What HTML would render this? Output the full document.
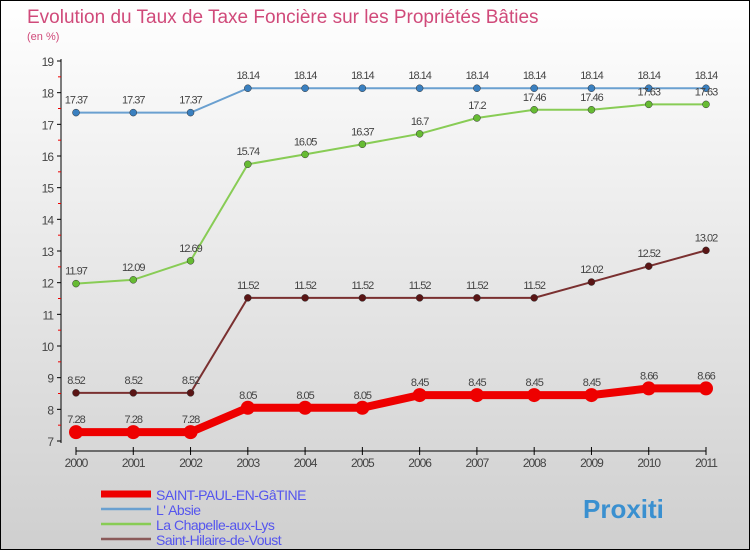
<!DOCTYPE html>
<html><head><meta charset="utf-8"><style>
body{margin:0}
#c{position:relative;width:748px;height:548px;border:1px solid #000;background:linear-gradient(#fff,#cfcfcf);font-family:"Liberation Sans",sans-serif;overflow:hidden}
</style></head><body>
<div id="c">
<svg id="s" width="748" height="548" style="position:absolute;left:0;top:0">
<text x="26" y="22" font-size="19" fill="#d04a7a">Evolution du Taux de Taxe Foncière sur les Propriétés Bâties</text>
<text x="26" y="39" font-size="11" fill="#d04a7a">(en %)</text>
</svg>
</div>
<script>
const years=[2000,2001,2002,2003,2004,2005,2006,2007,2008,2009,2010,2011];
const yTicks=[7,8,9,10,11,12,13,14,15,16,17,18,19];
const stPaul=[7.28,7.28,7.28,8.05,8.05,8.05,8.45,8.45,8.45,8.45,8.66,8.66];
const absie=[17.37,17.37,17.37,18.14,18.14,18.14,18.14,18.14,18.14,18.14,18.14,18.14];
const chapelle=[11.97,12.09,12.69,15.74,16.05,16.37,16.7,17.2,17.46,17.46,17.63,17.63];
const hilaire=[8.52,8.52,8.52,11.52,11.52,11.52,11.52,11.52,11.52,12.02,12.52,13.02];
const names=["SAINT-PAUL-EN-GâTINE","L' Absie","La Chapelle-aux-Lys","Saint-Hilaire-de-Voust"];
const s=document.getElementById('s');const NS='http://www.w3.org/2000/svg';
const X=i=>75+i*(630/11);const Y=v=>440-(v-7)*(380/12);
function el(t,a,p){const e=document.createElementNS(NS,t);for(const k in a)e.setAttribute(k,a[k]);(p||s).appendChild(e);return e;}
let ax=el('line',{x1:60,y1:58,x2:60,y2:442,stroke:'#000'});


yTicks.forEach(v=>{el('line',{x1:56,x2:60,y1:Y(v),y2:Y(v),stroke:'#000'});
 if(v<19)el('line',{x1:57,x2:60,y1:Y(v+0.5),y2:Y(v+0.5),stroke:'#e00'});
 const t=el('text',{x:52,y:Y(v)+5,'text-anchor':'end','font-size':12,fill:'#444','letter-spacing':'-1'});t.textContent=v;
 
 });
let xa=el('line',{x1:X(0),y1:450,x2:X(11),y2:450,stroke:'#000'});


years.forEach((y,i)=>{el('line',{x1:X(i),x2:X(i),y1:446,y2:454,stroke:'#000'});
 const t=el('text',{x:X(i),y:466,'text-anchor':'middle','font-size':12,fill:'#444','letter-spacing':'-1'});t.textContent=y;
 
 });
const series=[[absie,'#6aa0d0','#3a80c0',2,3.5],[chapelle,'#88cc55','#66bb33',2,3.5],[hilaire,'#7a3030','#5a1515',2,3.5],[stPaul,'#ee0000','#ee0000',8,7]];
series.forEach(([d,lc,pc,w,r],k)=>{
 const g=el('g',{});
 
 
 el('polyline',{points:d.map((v,i)=>X(i)+','+Y(v)).join(' '),fill:'none',stroke:lc,'stroke-width':w},g);
 d.forEach((v,i)=>{const c=el('circle',{cx:X(i),cy:Y(v),r:r,fill:pc,stroke:r<5?'#333':'none','stroke-width':0.5},g);
  
  
  const t=el('text',{x:X(i),y:Y(v)-9,'text-anchor':'middle','font-size':11,fill:'#444','letter-spacing':'-1'},g);t.textContent=v;});
});
const lc=['#ee0000','#6aa0d0','#88cc55','#8a5a5a'];
names.forEach((n,i)=>{const y=493+i*15;
 const g=el('g',{});
 
 
 el('line',{x1:100,x2:150,y1:y,y2:y,stroke:lc[i],'stroke-width':i==0?7:2.5},g);
 const t=el('text',{x:155,y:y+6,'font-size':14,fill:'#5555ee','letter-spacing':'-0.5'},g);t.textContent=n;});
const p=el('text',{x:582,y:517,'font-size':26,'font-weight':'bold',fill:'#3a90d0'});p.textContent='Proxiti';


</script>
</body></html>
